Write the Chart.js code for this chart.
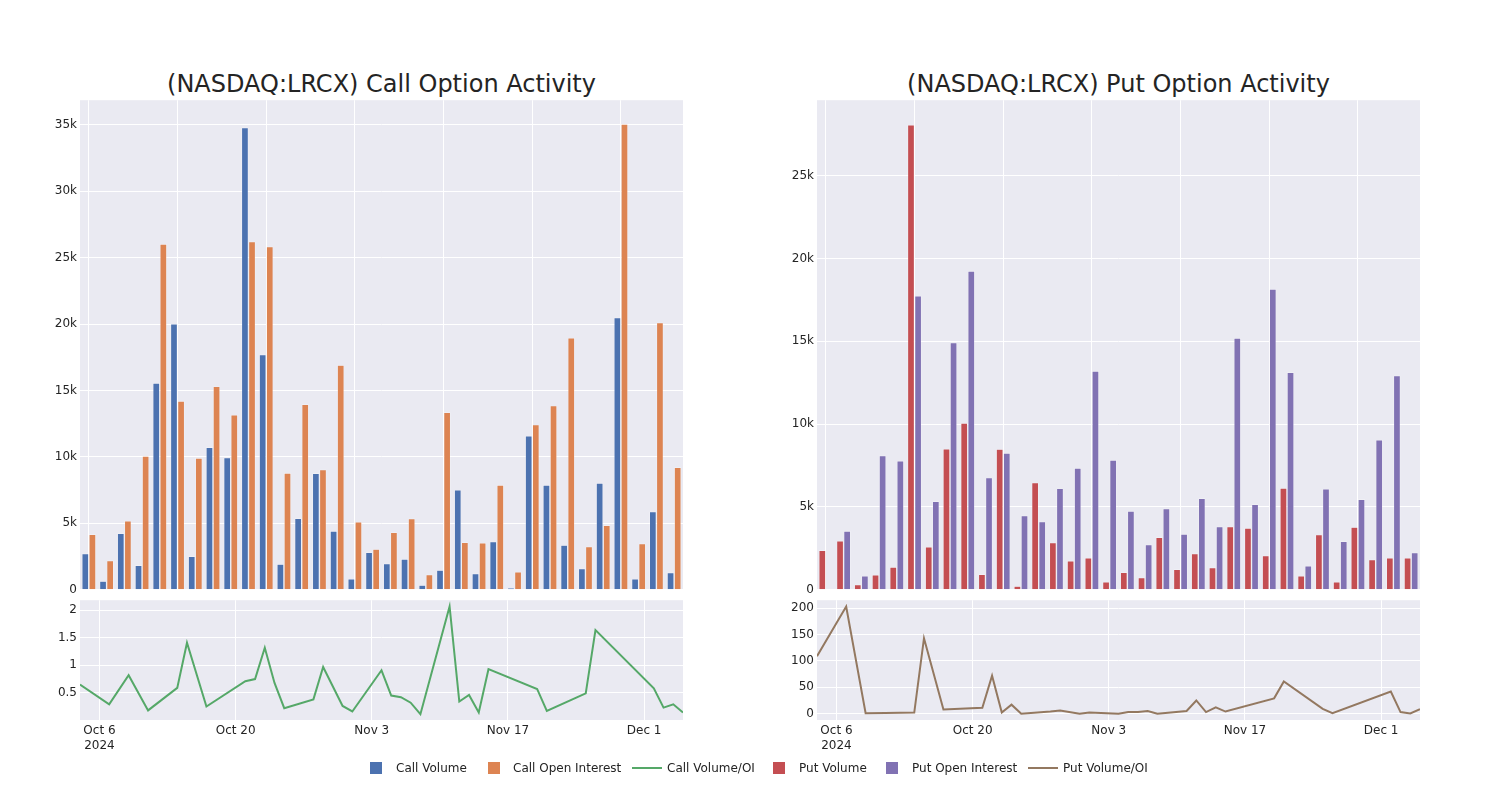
<!DOCTYPE html>
<html><head><meta charset="utf-8">
<script src="https://cdn.jsdelivr.net/npm/chart.js@4.4.1/dist/chart.umd.min.js"></script>
<style>
body{margin:0;background:#fff;width:1500px;height:800px;position:relative;overflow:hidden;font-family:'DejaVu Sans',sans-serif;color:rgb(36,36,36);}
canvas{position:absolute;}
.title{position:absolute;top:70px;height:28px;line-height:28px;font-size:24px;text-align:center;white-space:nowrap;}
.lt{position:absolute;top:760px;height:16px;line-height:16px;font-size:12px;white-space:nowrap;}
.sq{position:absolute;width:12px;height:12px;top:762px;}
.ln{position:absolute;height:2px;width:30px;top:767px;}
</style></head><body>
<div class="title" style="left:80px;width:603px;">(NASDAQ:LRCX) Call Option Activity</div>
<div class="title" style="left:817px;width:603px;">(NASDAQ:LRCX) Put Option Activity</div>
<canvas id="cBar" width="648" height="510" style="left:40px;top:90px;"></canvas>
<canvas id="cLine" width="648" height="175" style="left:40px;top:590px;"></canvas>
<canvas id="pBar" width="648" height="510" style="left:777px;top:90px;"></canvas>
<canvas id="pLine" width="648" height="175" style="left:777px;top:590px;"></canvas>
<div id="legend"></div>
<script>
// ---- data ----
const dates = ['2024-10-04','2024-10-07','2024-10-09','2024-10-11','2024-10-14','2024-10-15','2024-10-17',
  '2024-10-21','2024-10-22','2024-10-23','2024-10-24','2024-10-25','2024-10-28','2024-10-29','2024-10-31',
  '2024-11-01','2024-11-04','2024-11-05','2024-11-06','2024-11-07','2024-11-08','2024-11-11','2024-11-12',
  '2024-11-13','2024-11-14','2024-11-15','2024-11-20','2024-11-21','2024-11-25','2024-11-26',
  '2024-12-02','2024-12-03','2024-12-04','2024-12-05'];
const callVolume = [2730,650,4260,1850,15560,20020,2530,10720,9950,34800,17710,1930,5390,8770,4430,
  830,2830,1980,2310,350,1480,7520,1230,3630,150,11600,7890,3360,1600,8040,20500,830,5890,1300];
const callOpenInterest = [4180,2200,5190,10070,26030,14210,9920,15310,13180,26210,25830,8790,13960,9050,16910,
  5110,3060,4330,5360,1150,13360,3580,3530,7890,1350,12430,13860,18970,3260,4860,35050,3480,20120,9220];
const callRatio = [0.65,0.29,0.82,0.18,0.59,1.41,0.25,0.71,0.75,1.32,0.68,0.22,0.38,0.97,0.26,
  0.16,0.91,0.45,0.42,0.32,0.11,2.07,0.34,0.46,0.14,0.93,0.57,0.17,0.49,1.64,0.58,0.23,0.29,0.14];
const putVolume = [2390,2950,320,900,1370,28070,2590,8510,10060,940,8490,220,6470,2850,1750,
  1930,480,1060,740,3170,1240,2190,1350,3820,3730,2070,6140,840,3330,480,3780,1830,1930,1930];
const putOpenInterest = [30,3550,840,8110,7790,17750,5340,14920,19240,6770,8250,4480,4120,6120,7350,
  13210,7830,4760,2730,4900,3370,5520,3820,15200,5160,18150,13130,1450,6100,2930,5460,9060,12930,2250];
const putRatio = [109,203,1,1.5,2,143,8,11,72,2,17,0,4,6,0,2,0,3,3,5,0,5,25,3,12,4,29,61,9,1,42,3,0.5,8.5];

const callBarTicks = [0,5000,10000,15000,20000,25000,30000,35000];
const callBarTickLabels = ['0','5k','10k','15k','20k','25k','30k','35k'];
const putBarTicks = [0,5000,10000,15000,20000,25000];
const putBarTickLabels = ['0','5k','10k','15k','20k','25k'];
const callRatioTicks = [0.5,1,1.5,2];
const callRatioTickLabels = ['0.5','1','1.5','2'];
const putRatioTicks = [0,50,100,150,200];
const putRatioTickLabels = ['0','50','100','150','200'];
const xTickDates = ['2024-10-06','2024-10-20','2024-11-03','2024-11-17','2024-12-01'];
const xTickLabels = [['Oct 6','2024'],'Oct 20','Nov 3','Nov 17','Dec 1'];

const legendItems = [
  {name:'Call Volume', color:'#4C72B0', kind:'sq', x:370, tx:396},
  {name:'Call Open Interest', color:'#DD8452', kind:'sq', x:488, tx:513},
  {name:'Call Volume/OI', color:'#55A868', kind:'ln', x:632, tx:667},
  {name:'Put Volume', color:'#C44E52', kind:'sq', x:773, tx:799},
  {name:'Put Open Interest', color:'#8172B3', kind:'sq', x:886, tx:912},
  {name:'Put Volume/OI', color:'#937860', kind:'ln', x:1028, tx:1063}
];

// ---- rendering ----
Chart.defaults.font.family = "'DejaVu Sans', sans-serif";
Chart.defaults.font.size = 12;
Chart.defaults.color = 'rgb(36,36,36)';
const TXT = 'rgb(36,36,36)';
const dayNum = s => Date.UTC(+s.slice(0,4), +s.slice(5,7)-1, +s.slice(8,10)) / 86400000;

const bgPlugin = {id:'bg', beforeDraw(chart){
  const {ctx, chartArea:a} = chart;
  ctx.save(); ctx.fillStyle = '#EAEAF2';
  ctx.fillRect(a.left, a.top, a.right - a.left, a.bottom - a.top);
  ctx.restore();
}};

function barChart(id, a, b, colA, colB, nameA, nameB, yMax, yTicks, yLabels) {
  const mk = (label, data, color) => ({label, data, backgroundColor: color,
    borderColor: 'rgba(255,255,255,0.45)', borderWidth: 0.7, categoryPercentage: 0.8, barPercentage: 1});
  new Chart(document.getElementById(id), {
    type: 'bar',
    data: {labels: dates, datasets: [mk(nameA, a, colA), mk(nameB, b, colB)]},
    options: {
      responsive: false, animation: false, devicePixelRatio: 1, events: [],
      layout: {padding: {left: 0, right: 5, top: 10, bottom: 9}},
      plugins: {legend: {display: false}, tooltip: {enabled: false}},
      scales: {
        x: {grid: {offset: false, drawTicks: false, lineWidth: 1,
              color: c => (c.index % 5 === 0 ? '#ffffff' : 'rgba(0,0,0,0)')},
            border: {display: false}, ticks: {display: false},
            afterFit: s => { s.height = 0; }},
        y: {min: 0, max: yMax, grid: {color: '#ffffff', drawTicks: false, lineWidth: 1},
            border: {display: false},
            ticks: {padding: 3, color: TXT, callback: (v, i) => yLabels[i]},
            afterBuildTicks: s => { s.ticks = yTicks.map(v => ({value: v})); },
            afterFit: s => { s.width = 40; }}
      }
    },
    plugins: [bgPlugin]
  });
}

function lineChart(id, ratio, color, yMin, yMax, yTicks, yLabels) {
  new Chart(document.getElementById(id), {
    type: 'line',
    data: {datasets: [{data: dates.map((d, i) => ({x: dayNum(d), y: ratio[i]})),
      borderColor: color, borderWidth: 2, pointRadius: 0, tension: 0, fill: false}]},
    options: {
      responsive: false, animation: false, devicePixelRatio: 1, events: [],
      layout: {padding: {left: 0, right: 5, top: 7, bottom: 0}},
      plugins: {legend: {display: false}, tooltip: {enabled: false}},
      scales: {
        x: {type: 'linear', min: dayNum(dates[0]), max: dayNum(dates[dates.length - 1]),
            grid: {color: '#ffffff', drawTicks: false, lineWidth: 1}, border: {display: false},
            ticks: {padding: 4, maxRotation: 0, autoSkip: false, color: TXT, callback: (v, i) => xTickLabels[i]},
            afterBuildTicks: s => { s.ticks = xTickDates.map(d => ({value: dayNum(d)})); },
            afterFit: s => { s.height = 45; }},
        y: {min: yMin, max: yMax, grid: {color: '#ffffff', drawTicks: false, lineWidth: 1},
            border: {display: false},
            ticks: {padding: 3, color: TXT, callback: (v, i) => yLabels[i]},
            afterBuildTicks: s => { s.ticks = yTicks.map(v => ({value: v})); },
            afterFit: s => { s.width = 40; }}
      }
    },
    plugins: [bgPlugin]
  });
}

barChart('cBar', callVolume, callOpenInterest, '#4C72B0', '#DD8452', 'Call Volume', 'Call Open Interest',
  36850, callBarTicks, callBarTickLabels);
barChart('pBar', putVolume, putOpenInterest, '#C44E52', '#8172B3', 'Put Volume', 'Put Open Interest',
  29550, putBarTicks, putBarTickLabels);
lineChart('cLine', callRatio, '#55A868', 0.005, 2.185, callRatioTicks, callRatioTickLabels);
lineChart('pLine', putRatio, '#937860', -12, 215, putRatioTicks, putRatioTickLabels);

const leg = document.getElementById('legend');
legendItems.forEach(it => {
  const s = document.createElement('div');
  s.className = it.kind; s.style.left = it.x + 'px'; s.style.background = it.color;
  leg.appendChild(s);
  const t = document.createElement('div');
  t.className = 'lt'; t.style.left = it.tx + 'px'; t.textContent = it.name;
  leg.appendChild(t);
});
</script>
</body></html>
